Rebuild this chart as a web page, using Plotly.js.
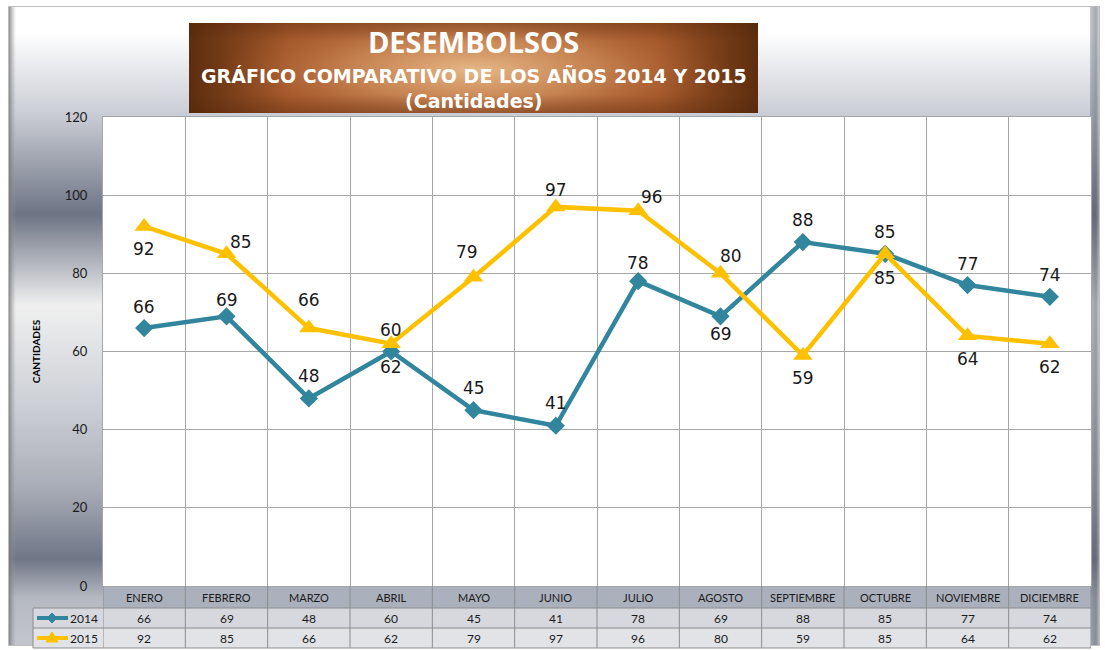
<!DOCTYPE html>
<html><head><meta charset="utf-8">
<script src="https://cdn.plot.ly/plotly-3.0.1.min.js"></script>
<style>html,body{margin:0;padding:0;background:#fff;} #chart{width:1105px;height:650px;}</style>
</head><body><div id="chart"></div>
<script>
// ---- data ----
const months = ['ENERO','FEBRERO','MARZO','ABRIL','MAYO','JUNIO','JULIO','AGOSTO','SEPTIEMBRE','OCTUBRE','NOVIEMBRE','DICIEMBRE'];
const values2014 = [66,69,48,60,45,41,78,69,88,85,77,74];
const values2015 = [92,85,66,62,79,97,96,80,59,85,64,62];
const seriesNames = ['2014','2015'];
const yTicks = [0,20,40,60,80,100,120];
const titleMain = 'DESEMBOLSOS';
const titleLine2 = 'GRÁFICO COMPARATIVO DE LOS AÑOS 2014 Y 2015';
const titleLine3 = '(Cantidades)';
const yTitle = 'CANTIDADES';

// ---- data-label offsets in pixels (style only) ----
const labelDx2014 = [0,0,0,0,0,0,0,0,0,0,0,0];
const labelDy2014 = [21,16,22,22,22,23,18,-18,22,22,21,22];
const labelDx2015 = [0,14,0,0,-7,0,14,10,0,0,0,0];
const labelDy2015 = [-23,12,28,-23,25,17,14,17,-23,-24,-23,-23];

// ---- geometry helpers (pixels -> paper) ----
const W=1105, H=650, L=103, R=1091, T=117, B=586;
function px(x){return (x-L)/(R-L);}
function py(y){return (B-y)/(B-T);}

const C2014 = '#31859C', C2015 = '#FFC000';
const FONT = 'Lato, "Open Sans", sans-serif';
const LABEL_FONT = {family:'"DejaVu Sans", Verdana, sans-serif', size:17, color:'#1a1a1a'};

function bgImage(){
  const c=document.createElement('canvas'); c.width=W; c.height=H;
  const g=c.getContext('2d');
  g.fillStyle='#ffffff'; g.fillRect(0,0,W,H);
  const lg=g.createLinearGradient(0,0,0,H);
  lg.addColorStop(0,'#ffffff');
  lg.addColorStop(0.05,'#ffffff');
  lg.addColorStop(0.18,'#c8cbd3');
  lg.addColorStop(0.33,'#6d7484');
  lg.addColorStop(0.47,'#f0f0f0');
  lg.addColorStop(0.62,'#cdd0d6');
  lg.addColorStop(0.75,'#a9adb7');
  lg.addColorStop(0.86,'#6f7686');
  lg.addColorStop(0.92,'#b5b9c1');
  lg.addColorStop(1,'#c4c7ce');
  g.fillStyle=lg; g.fillRect(8,6,1092,640);
  const lb=g.createLinearGradient(8,0,16,0);
  lb.addColorStop(0,'rgba(110,110,110,0.9)'); lb.addColorStop(1,'rgba(160,160,160,0)');
  g.fillStyle=lb; g.fillRect(8,6,8,640);
  const rb=g.createLinearGradient(1090,0,1100,0);
  rb.addColorStop(0,'rgba(90,95,110,0.35)'); rb.addColorStop(0.6,'rgba(90,95,110,0.55)'); rb.addColorStop(1,'rgba(200,200,205,0.6)');
  g.fillStyle=rb; g.fillRect(1090,6,10,640);
  g.strokeStyle='#bdbdbd'; g.lineWidth=1;
  g.strokeRect(8.5,6.5,1091,639);
  return c.toDataURL();
}

function titleBoxImage(){
  const w=569, h=90;
  const c=document.createElement('canvas'); c.width=w; c.height=h;
  const g=c.getContext('2d');
  const lg=g.createLinearGradient(0,0,w,0);
  lg.addColorStop(0,'#5c2d0e'); lg.addColorStop(0.18,'#a4582a');
  lg.addColorStop(0.5,'#bb7442'); lg.addColorStop(0.82,'#a4582a'); lg.addColorStop(1,'#5c2d0e');
  g.fillStyle=lg; g.fillRect(0,0,w,h);
  g.save();
  g.translate(w*0.5,h*0.52); g.scale(4.2,1);
  const rg=g.createRadialGradient(0,0,0,0,0,60);
  rg.addColorStop(0,'rgba(232,186,138,0.97)');
  rg.addColorStop(0.5,'rgba(212,148,98,0.62)');
  rg.addColorStop(1,'rgba(170,90,45,0)');
  g.fillStyle=rg; g.fillRect(-80,-60,160,120);
  g.restore();
  const vg=g.createLinearGradient(0,0,0,h);
  vg.addColorStop(0,'rgba(80,35,10,0.35)'); vg.addColorStop(0.2,'rgba(80,35,10,0)');
  vg.addColorStop(0.8,'rgba(80,35,10,0)'); vg.addColorStop(1,'rgba(80,35,10,0.35)');
  g.fillStyle=vg; g.fillRect(0,0,w,h);
  return c.toDataURL();
}

const traces = [
  {x: months, y: values2014, name: seriesNames[0], type:'scatter', mode:'lines+markers',
   line:{color:C2014, width:4.5}, marker:{symbol:'diamond', size:14, color:C2014}, hoverinfo:'x+y+name'},
  {x: months, y: values2015, name: seriesNames[1], type:'scatter', mode:'lines+markers',
   line:{color:C2015, width:4.5}, marker:{symbol:'triangle-up', size:17, color:C2015}, hoverinfo:'x+y+name'}
];

const shapes = [];
const annotations = [];

// data labels, placed at data coordinates
months.forEach((m,i)=>{
  annotations.push({xref:'x', yref:'y', x:m, y:values2014[i], text:String(values2014[i]), showarrow:false,
    xanchor:'center', yanchor:'middle', xshift:labelDx2014[i], yshift:labelDy2014[i], font:LABEL_FONT});
  annotations.push({xref:'x', yref:'y', x:m, y:values2015[i], text:String(values2015[i]), showarrow:false,
    xanchor:'center', yanchor:'middle', xshift:labelDx2015[i], yshift:labelDy2015[i], font:LABEL_FONT});
});

// plot area background
shapes.push({type:'rect', xref:'paper', yref:'paper', x0:0, x1:1, y0:0, y1:1, fillcolor:'#ffffff', line:{width:0}, layer:'below'});
// data table backgrounds
shapes.push({type:'rect', xref:'paper', yref:'paper', x0:0, x1:1, y0:py(608), y1:py(586), fillcolor:'#aab0bc', line:{width:0}, layer:'below'});
shapes.push({type:'rect', xref:'paper', yref:'paper', x0:px(33), x1:1, y0:py(628), y1:py(608), fillcolor:'#d6d8de', line:{width:0}, layer:'below'});
shapes.push({type:'rect', xref:'paper', yref:'paper', x0:px(33), x1:1, y0:py(648), y1:py(628), fillcolor:'#e1e3e7', line:{width:0}, layer:'below'});
[608,628,648].forEach(y=>{
  shapes.push({type:'line', xref:'paper', yref:'paper', x0:px(33), x1:1, y0:py(y), y1:py(y), line:{color:'#8c8c8c', width:1}});
});
shapes.push({type:'line', xref:'paper', yref:'paper', x0:px(33), x1:px(33), y0:py(608), y1:py(648), line:{color:'#8c8c8c', width:1}});
for(let i=0;i<=months.length;i++){
  shapes.push({type:'line', xref:'x', yref:'paper', x0:i-0.5, x1:i-0.5, y0:0, y1:py(648), line:{color:'#8c8c8c', width:1}});
}
// legend keys inside the table
const keyRows = [{y:618, c:C2014, sym:'diamond'}, {y:638, c:C2015, sym:'tri'}];
keyRows.forEach(k=>{
  shapes.push({type:'line', xref:'paper', yref:'paper', x0:px(37), x1:px(68), y0:py(k.y), y1:py(k.y), line:{color:k.c, width:4}});
  let p;
  if(k.sym==='diamond'){
    p = 'M '+px(52)+','+py(k.y-5)+' L '+px(57)+','+py(k.y)+' L '+px(52)+','+py(k.y+5)+' L '+px(47)+','+py(k.y)+' Z';
  } else {
    p = 'M '+px(52)+','+py(k.y-6)+' L '+px(58)+','+py(k.y+4)+' L '+px(46)+','+py(k.y+4)+' Z';
  }
  shapes.push({type:'path', xref:'paper', yref:'paper', path:p, fillcolor:k.c, line:{color:k.c, width:1}});
});
const cellFont = {family:FONT, size:12, color:'#1a1a1a'};
annotations.push({xref:'paper', yref:'paper', x:px(84), y:py(618), xanchor:'center', yanchor:'middle', text:seriesNames[0], showarrow:false, font:cellFont});
annotations.push({xref:'paper', yref:'paper', x:px(84), y:py(638), xanchor:'center', yanchor:'middle', text:seriesNames[1], showarrow:false, font:cellFont});
months.forEach((m,i)=>{
  annotations.push({xref:'x', yref:'paper', x:m, y:py(597), xanchor:'center', yanchor:'middle', text:m, showarrow:false, font:{family:FONT, size:11, color:'#1a1a1a'}});
  annotations.push({xref:'x', yref:'paper', x:m, y:py(618), xanchor:'center', yanchor:'middle', text:String(values2014[i]), showarrow:false, font:cellFont});
  annotations.push({xref:'x', yref:'paper', x:m, y:py(638), xanchor:'center', yanchor:'middle', text:String(values2015[i]), showarrow:false, font:cellFont});
});
// subtitle (two lines) in title box
annotations.push({xref:'paper', yref:'paper', x:px(473.5), y:py(87.5), xanchor:'center', yanchor:'middle', showarrow:false,
  text:'<b>'+titleLine2+'<br>'+titleLine3+'</b>',
  font:{family:'"DejaVu Sans", sans-serif', size:19, color:'#ffffff'}});

const layout = {
  width: W, height: H,
  margin: {l:L, r:W-R, t:T, b:H-B, pad:0},
  paper_bgcolor:'#ffffff', plot_bgcolor:'rgba(0,0,0,0)',
  showlegend:false,
  title:{text:'<b>'+titleMain+'</b>', xref:'container', yref:'container', x:473.5/W, y:1-43/H, xanchor:'center', yanchor:'middle',
         font:{family:'"Open Sans", sans-serif', size:29, color:'#ffffff'}},
  xaxis:{type:'category', range:[-0.5,11.5], tickson:'boundaries', showgrid:true, gridcolor:'#a6a6a6', gridwidth:1,
         showticklabels:false, ticks:'', showline:true, linecolor:'#a6a6a6', mirror:true, fixedrange:true},
  yaxis:{range:[0,120], tickvals:yTicks, showgrid:true, gridcolor:'#a6a6a6', gridwidth:1, zeroline:false,
         showline:true, linecolor:'#a6a6a6', mirror:true, ticks:'', ticklabelstandoff:12,
         tickfont:{family:FONT, size:13, color:'#1a1a1a'},
         title:{text:'<b>'+yTitle+'</b>', font:{family:FONT, size:10, color:'#000000'}, standoff:22}, fixedrange:true},
  images:[
    {source:bgImage(), xref:'paper', yref:'paper', x:px(0), y:py(0), sizex:W/(R-L), sizey:H/(B-T), xanchor:'left', yanchor:'top', sizing:'stretch', layer:'below'},
    {source:titleBoxImage(), xref:'paper', yref:'paper', x:px(189), y:py(23), sizex:(758-189)/(R-L), sizey:(113-23)/(B-T), xanchor:'left', yanchor:'top', sizing:'stretch', layer:'below'}
  ],
  shapes: shapes,
  annotations: annotations
};

Plotly.newPlot('chart', traces, layout, {displayModeBar:false, responsive:false});
</script>
</body></html>
